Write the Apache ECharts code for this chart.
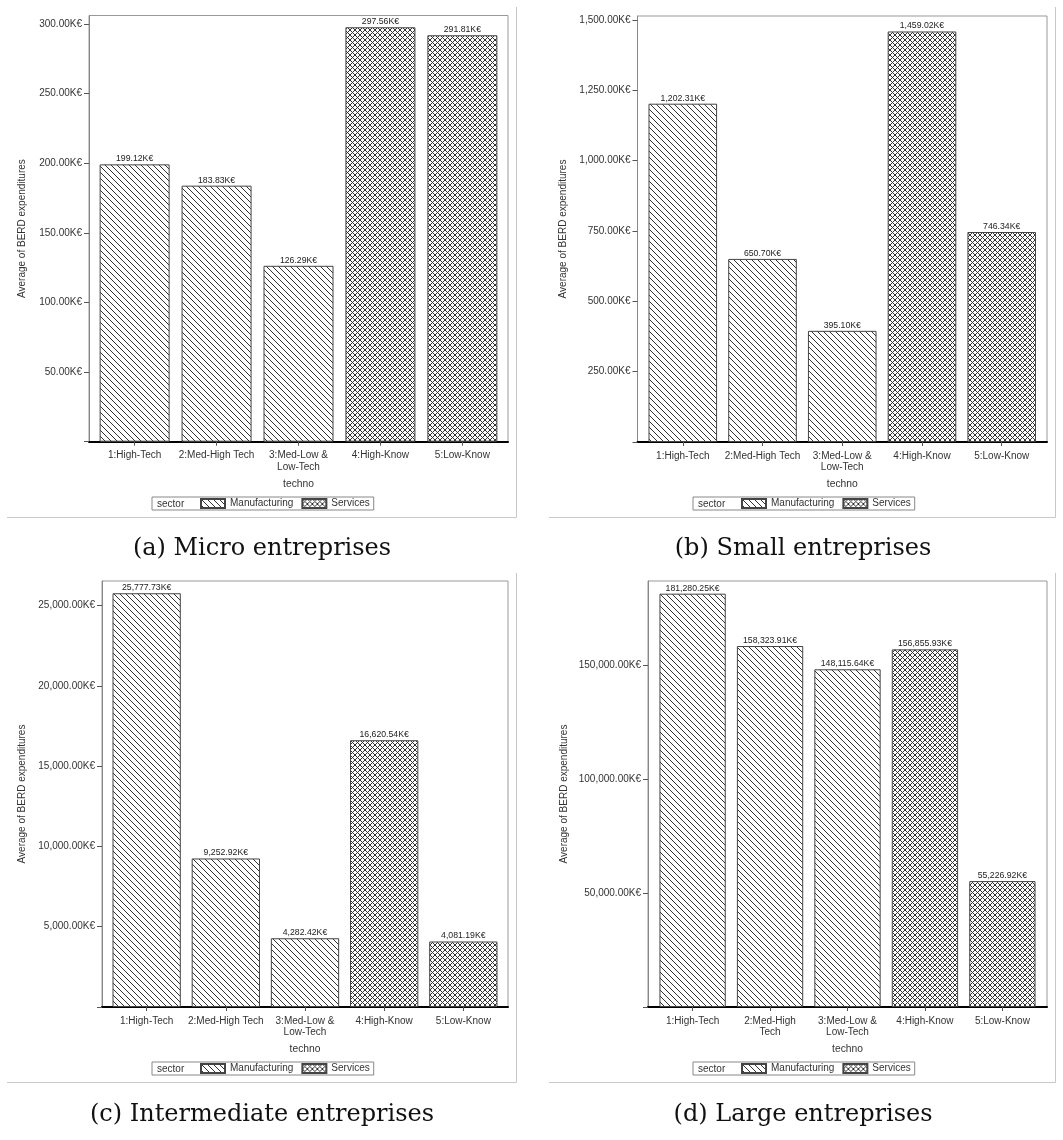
<!DOCTYPE html>
<html><head><meta charset="utf-8">
<script src="https://cdn.jsdelivr.net/npm/echarts@6/dist/echarts.min.js"></script>
<style>html,body{margin:0;padding:0;background:#fff;} #c{width:1063px;height:1140px;}</style>
</head><body><div id="c"></div>
<script>
// ---------- data ----------
const categoriesABC = ['1:High-Tech', '2:Med-High Tech', '3:Med-Low &\nLow-Tech', '4:High-Know', '5:Low-Know'];
const categoriesD = ['1:High-Tech', '2:Med-High\nTech', '3:Med-Low &\nLow-Tech', '4:High-Know', '5:Low-Know'];
const sectors = ['Manufacturing', 'Services'];
const sectorOfCategory = ['Manufacturing', 'Manufacturing', 'Manufacturing', 'Services', 'Services'];
const microValues = [199.12, 183.83, 126.29, 297.56, 291.81];
const smallValues = [1202.31, 650.70, 395.10, 1459.02, 746.34];
const intermediateValues = [25777.73, 9252.92, 4282.42, 16620.54, 4081.19];
const largeValues = [181280.25, 158323.91, 148115.64, 156855.93, 55226.92];
const microTicks = [50, 100, 150, 200, 250, 300];
const smallTicks = [250, 500, 750, 1000, 1250, 1500];
const intermediateTicks = [5000, 10000, 15000, 20000, 25000];
const largeTicks = [50000, 100000, 150000];
const microMax = 306, smallMax = 1514, intermediateMax = 26540, largeMax = 186840;
const captions = ['(a) Micro entreprises', '(b) Small entreprises', '(c) Intermediate entreprises', '(d) Large entreprises'];
const yTitle = 'Average of BERD expenditures';
const xTitle = 'techno';
const legendTitle = 'sector';

// ---------- layout ----------
const panels = [
  {values: microValues, ticks: microTicks, max: microMax, cats: categoriesABC,
   grid: {left: 89, top: 15.5, width: 419, height: 426.2}, barWidth: 70, pad: 0.557, nameGap: 62,
   box: {x0: 7, x1: 516, y0: 7, y1: 517}, legend: {left: 152, top: 497}, caption: {x: 262, y: 549}},
  {values: smallValues, ticks: smallTicks, max: smallMax, cats: categoriesABC,
   grid: {left: 637.5, top: 16, width: 409.5, height: 426}, barWidth: 68.6, pad: 0.568, nameGap: 69,
   box: {x0: 549, x1: 1055, y0: 7, y1: 517}, legend: {left: 693, top: 497}, caption: {x: 803, y: 549}},
  {values: intermediateValues, ticks: intermediateTicks, max: intermediateMax, cats: categoriesABC,
   grid: {left: 102, top: 581, width: 406, height: 426}, barWidth: 68.3, pad: 0.564, nameGap: 75,
   box: {x0: 7, x1: 516, y0: 573, y1: 1082}, legend: {left: 152, top: 1062}, caption: {x: 262, y: 1115}},
  {values: largeValues, ticks: largeTicks, max: largeMax, cats: categoriesD,
   grid: {left: 648, top: 581, width: 399, height: 426}, barWidth: 66.3, pad: 0.576, nameGap: 79,
   box: {x0: 549, x1: 1055, y0: 573, y1: 1082}, legend: {left: 693, top: 1062}, caption: {x: 803, y: 1115}}
];

const FONT = '"Liberation Sans", Arial, sans-serif';
function fmt(v) {
  const s = Number(v).toFixed(2);
  const parts = s.split('.');
  return parts[0].replace(/\B(?=(\d{3})+(?!\d))/g, ',') + '.' + parts[1];
}
function makePattern(cross) {
  const n = cross ? 5 : 6;
  const c = document.createElement('canvas');
  c.width = n; c.height = n;
  const g = c.getContext('2d');
  g.fillStyle = '#ffffff'; g.fillRect(0, 0, n, n);
  g.fillStyle = '#333333';
  for (let i = 0; i < n; i++) {
    g.fillRect(i, i, 1, 1);
    if (cross) g.fillRect(n - 1 - i, i, 1, 1);
  }
  return c;
}
const patterns = [makePattern(false), makePattern(true)];

const grid = [], xAxis = [], yAxis = [], series = [], legend = [], graphic = [];
panels.forEach((p, k) => {
  grid.push(Object.assign({show: true, borderColor: '#999', borderWidth: 1, backgroundColor: 'transparent',
    containLabel: false, outerBoundsMode: 'none'}, p.grid));
  const idx = p.cats.map((c, i) => i);
  xAxis.push({
    type: 'value', gridIndex: k, min: -p.pad, max: 4 + p.pad, position: 'bottom',
    name: xTitle, nameLocation: 'middle', nameGap: 37,
    nameTextStyle: {fontSize: 10.3, color: '#333', fontFamily: FONT},
    axisLine: {show: true, onZero: false, lineStyle: {color: '#000', width: 2}},
    axisTick: {show: true, customValues: idx, length: 4, lineStyle: {color: '#555'}},
    axisLabel: {customValues: idx, formatter: v => p.cats[Math.round(v)], fontSize: 10, color: '#333',
      fontFamily: FONT, margin: 8, lineHeight: 11.5},
    splitLine: {show: false}
  });
  yAxis.push({
    type: 'value', gridIndex: k, min: 0, max: p.max, position: 'left',
    name: yTitle, nameLocation: 'middle', nameGap: p.nameGap,
    nameTextStyle: {fontSize: 10, color: '#333', fontFamily: FONT},
    axisLine: {show: true, onZero: false, lineStyle: {color: '#888'}},
    axisTick: {show: true, customValues: [0].concat(p.ticks), length: 5, lineStyle: {color: '#555'}},
    axisLabel: {customValues: p.ticks, formatter: v => fmt(v) + 'K€', fontSize: 10, color: '#333',
      fontFamily: FONT, margin: 7},
    splitLine: {show: false}
  });
  sectors.forEach((sec, si) => {
    series.push({
      type: 'bar', name: sec, xAxisIndex: k, yAxisIndex: k,
      barWidth: p.barWidth, barGap: '-100%',
      data: p.values.map((v, i) => sectorOfCategory[i] === sec ? [i, v] : null).filter(d => d),
      itemStyle: {color: {image: patterns[si], repeat: 'repeat'}, borderColor: '#444', borderWidth: 1},
      label: {show: true, position: 'top', distance: 1, fontSize: 8.7, color: '#222', fontFamily: FONT,
        formatter: q => fmt(q.value[1]) + 'K€'},
      emphasis: {disabled: true}
    });
  });
  legend.push({
    data: sectors, left: p.legend.left, top: p.legend.top, orient: 'horizontal', icon: 'rect',
    itemWidth: 24, itemHeight: 9, itemGap: 8, padding: [1, 4, 1, 48],
    borderColor: '#888', borderWidth: 1, selectedMode: false,
    textStyle: {fontSize: 10, color: '#333', fontFamily: FONT}
  });
  graphic.push({type: 'text', x: p.legend.left + 5, y: p.legend.top + 7,
    style: {text: legendTitle, fontSize: 10, fontFamily: FONT, fill: '#333', align: 'left', verticalAlign: 'middle'}});
  graphic.push({type: 'line', shape: {x1: p.box.x1 + 0.5, y1: p.box.y0, x2: p.box.x1 + 0.5, y2: p.box.y1 + 0.5},
    style: {stroke: '#c8c8c8', lineWidth: 1}});
  graphic.push({type: 'line', shape: {x1: p.box.x0, y1: p.box.y1 + 0.5, x2: p.box.x1 + 0.5, y2: p.box.y1 + 0.5},
    style: {stroke: '#c8c8c8', lineWidth: 1}});
  graphic.push({type: 'text', x: p.caption.x, y: p.caption.y,
    style: {text: captions[k], fontSize: 24, fontFamily: '"DejaVu Serif", serif', fill: '#111',
      align: 'center', verticalAlign: 'middle'}});
});

const chart = echarts.init(document.getElementById('c'), null, {renderer: 'canvas'});
chart.setOption({
  animation: false,
  backgroundColor: '#fff',
  textStyle: {fontFamily: FONT},
  grid, xAxis, yAxis, series, legend, graphic
});
</script>
</body></html>
